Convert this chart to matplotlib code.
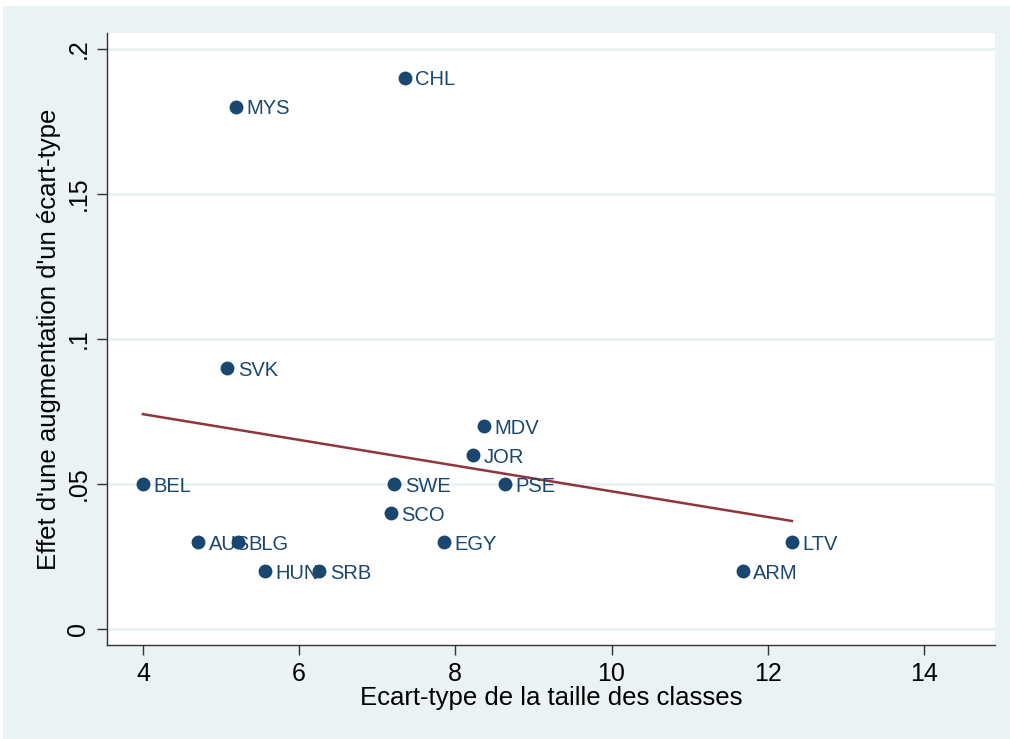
import numpy as np
import matplotlib.pyplot as plt
from matplotlib.patches import Rectangle

# Pays et valeurs
pays = ["CHL", "MYS", "SVK", "MDV", "JOR", "BEL", "SWE", "PSE", "SCO",
        "AUS", "BLG", "EGY", "HUN", "SRB", "LTV", "ARM"]
ecart_taille = [7.35, 5.19, 5.08, 8.37, 8.23, 4.00, 7.22, 8.64, 7.17,
                4.71, 5.22, 7.86, 5.56, 6.26, 12.31, 11.68]
effet = [0.19, 0.18, 0.09, 0.07, 0.06, 0.05, 0.05, 0.05, 0.04,
         0.03, 0.03, 0.03, 0.02, 0.02, 0.03, 0.02]

xticks = [4, 6, 8, 10, 12, 14]
yticks = [0, 0.05, 0.1, 0.15, 0.2]
ytick_labels = ["0", ".05", ".1", ".15", ".2"]

bleu = "#1a476f"
fond = "#eaf2f3"
plt.rcParams["font.family"] = ["Liberation Sans", "DejaVu Sans"]

fig = plt.figure(figsize=(10.1, 7.39), dpi=100, facecolor="white")
fig.add_artist(Rectangle((3 / 1010, 0), 1, 1 - 6 / 739, transform=fig.transFigure,
                         facecolor=fond, edgecolor="none", zorder=-5))
ax = fig.add_axes([107 / 1010, 1 - 645 / 739, 888 / 1010, 612 / 739])
ax.set_facecolor("white")

# grille horizontale
for y in yticks:
    ax.axhline(y, color=fond, lw=2.2, zorder=1)

ax.scatter(ecart_taille, effet, s=100, color=bleu, zorder=3, linewidths=0)
for p, x, y in zip(pays, ecart_taille, effet):
    ax.annotate(p, (x, y), xytext=(7.5, 0), textcoords="offset points",
                va="center_baseline", ha="left", color=bleu, fontsize=14.5, zorder=4)

# droite de régression
a, b = np.polyfit(ecart_taille, effet, 1)
xs = np.array([min(ecart_taille), max(ecart_taille)])
ax.plot(xs, a * xs + b, color="#90353b", lw=1.8, zorder=2)

ax.set_xlim(3.54, 14.91)
ax.set_ylim(-0.0055, 0.2055)
ax.set_xticks(xticks)
ax.set_yticks(yticks)
ax.set_yticklabels(ytick_labels, rotation=90, va="center")
ax.tick_params(axis="both", labelsize=18, length=7, width=1, color="#333333", pad=5)

for s in ["top", "right"]:
    ax.spines[s].set_visible(False)
for s in ["left", "bottom"]:
    ax.spines[s].set_color("#333333")
    ax.spines[s].set_linewidth(1)

ax.set_xlabel("Ecart-type de la taille des classes", fontsize=18.5, labelpad=0)
ax.set_ylabel("Effet d'une augmentation d'un écart-type", fontsize=18.5, labelpad=4)

fig.savefig("out.png", dpi=100, facecolor=fig.get_facecolor())
